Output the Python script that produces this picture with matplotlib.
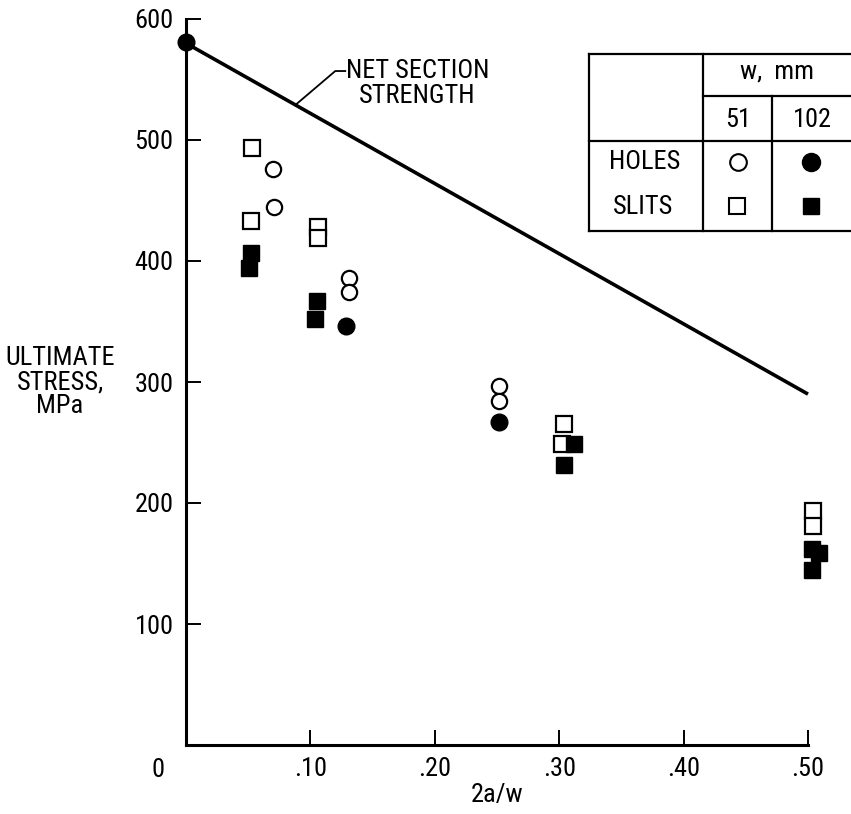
import matplotlib
matplotlib.use('Agg')
import matplotlib.pyplot as plt
from matplotlib import font_manager as fm

# pick a narrow font if there is one
names = set(f.name for f in fm.fontManager.ttflist)
fam = [n for n in ['Liberation Sans Narrow', 'Roboto Condensed', 'Open Sans Condensed', 'Liberation Sans'] if n in names]
plt.rcParams['font.family'] = fam + ['DejaVu Sans']

# data (2a/w, ultimate stress MPa)
holes_51_x = [0.070, 0.071, 0.131, 0.131, 0.252, 0.252]
holes_51_y = [476, 445, 386, 374, 297, 284]
holes_102_x = [0.0, 0.129, 0.252]
holes_102_y = [581, 346, 267]
slits_51_x = [0.053, 0.052, 0.106, 0.106, 0.304, 0.302, 0.504, 0.504]
slits_51_y = [493, 433, 428, 419, 265, 249, 193, 181]
slits_102_x = [0.052, 0.051, 0.105, 0.104, 0.312, 0.304, 0.503, 0.509, 0.503]
slits_102_y = [407, 394, 367, 352, 249, 231, 162, 159, 145]
net_x = [0.0, 0.50]
net_y = [580, 290]

xticks = [0.1, 0.2, 0.3, 0.4, 0.5]
xticklabels = ['.10', '.20', '.30', '.40', '.50']
yticks = [100, 200, 300, 400, 500, 600]

W, H = 851, 814
fig = plt.figure(figsize=(W / 100, H / 100), dpi=100)
ax = fig.add_axes([186 / W, 1 - 745 / H, (808 - 186) / W, (745 - 19) / H])

ax.plot(net_x, net_y, color='black', lw=2.6, solid_capstyle='butt', clip_on=False)

ms = 11
ax.plot(holes_51_x, holes_51_y, 'o', ms=ms, mfc='white', mec='black', mew=1.6, clip_on=False)
ax.plot(holes_102_x, holes_102_y, 'o', ms=ms + 1, color='black', clip_on=False, zorder=5)
ax.plot(slits_51_x, slits_51_y, 's', ms=ms, mfc='white', mec='black', mew=1.6, clip_on=False)
ax.plot(slits_102_x, slits_102_y, 's', ms=ms, color='black', clip_on=False)

ax.set_xlim(0, 0.5)
ax.set_ylim(0, 600)
for s in ['top', 'right']:
    ax.spines[s].set_visible(False)
for s in ['left', 'bottom']:
    ax.spines[s].set_linewidth(2.2)

fs = 19
ax.set_xticks(xticks)
ax.set_xticklabels(xticklabels, fontsize=fs)
ax.set_yticks(yticks)
ax.set_yticklabels([str(v) for v in yticks], fontsize=fs)
ax.tick_params(direction='in', length=11, width=1.4, pad=9)
ax.text(-0.0225, -21, '0', fontsize=fs, ha='center', va='center')
ax.set_xlabel('2a/w', fontsize=fs, labelpad=1)

# leader + label for the net section line
ax.plot([0.088, 0.120, 0.128], [529, 557, 557], color='black', lw=1.3)
ax.text(0.186, 547, 'NET SECTION\nSTRENGTH', fontsize=fs, ha='center', va='center',
        linespacing=1.05)

fig.text(60 / W, 1 - 382 / H, 'ULTIMATE\nSTRESS,\nMPa', fontsize=fs, ha='center',
         va='center', multialignment='center', linespacing=1.0)

# key table drawn in pixel coordinates on an overlay
ov = fig.add_axes([0, 0, 1, 1])
ov.set_xlim(0, W)
ov.set_ylim(H, 0)
ov.axis('off')
lk = dict(color='black', lw=1.6)
ov.plot([589, W], [54, 54], **lk)
ov.plot([589, W], [141, 141], **lk)
ov.plot([589, W], [231, 231], **lk)
ov.plot([703, W], [96, 96], **lk)
ov.plot([589, 589], [54, 231], **lk)
ov.plot([703, 703], [54, 231], **lk)
ov.plot([772, 772], [96, 231], **lk)
ov.text(777, 72, 'w,  mm', fontsize=fs, ha='center', va='center')
ov.text(738, 120, '51', fontsize=fs, ha='center', va='center')
ov.text(812, 120, '102', fontsize=fs, ha='center', va='center')
ov.text(645, 162, 'HOLES', fontsize=fs, ha='center', va='center')
ov.text(643, 207, 'SLITS', fontsize=fs, ha='center', va='center')
ov.plot([738], [162], 'o', ms=12, mfc='white', mec='black', mew=1.5)
ov.plot([811], [162], 'o', ms=13, color='black')
ov.plot([737], [206], 's', ms=11, mfc='white', mec='black', mew=1.5)
ov.plot([811], [206], 's', ms=12, color='black')

fig.savefig('out.png', dpi=100)
